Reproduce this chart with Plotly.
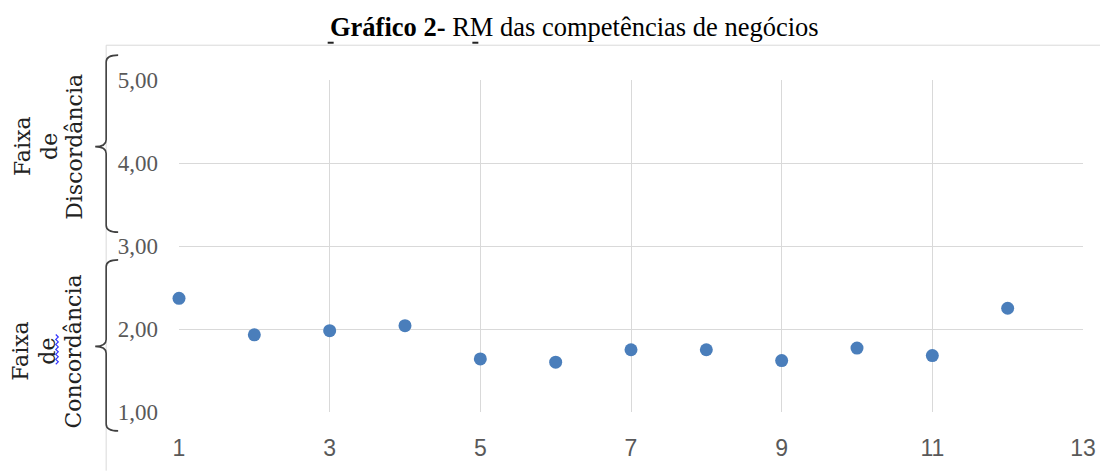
import plotly.graph_objects as go

# ---- data ----
competencias = [1, 2, 3, 4, 5, 6, 7, 8, 9, 10, 11, 12]
rm_values = [2.37, 1.93, 1.98, 2.04, 1.64, 1.60, 1.75, 1.75, 1.62, 1.77, 1.68, 2.25]
x_ticks = [1, 3, 5, 7, 9, 11, 13]
y_ticks = [1, 2, 3, 4, 5]
y_tick_labels = ["1,00", "2,00", "3,00", "4,00", "5,00"]

OFF = 8  # page body margin
SW, SH = 1108, 473
W, H = SW - OFF, SH - OFF
L, R, T, B = 179, 1085, 80, 414  # plot area in screen pixels


def X(px):
    return (px - L) / (R - L)


def Y(py):
    return (B - py) / (B - T)


def brace_path(y0, ym, y1, xv=106, xt=118, xs=95, r=7):
    return (f"M {X(xt)},{Y(y0)} Q {X(xv)},{Y(y0)} {X(xv)},{Y(y0 + r)} "
            f"L {X(xv)},{Y(ym - r)} Q {X(xv)},{Y(ym)} {X(xs)},{Y(ym)} "
            f"Q {X(xv)},{Y(ym)} {X(xv)},{Y(ym + r)} "
            f"L {X(xv)},{Y(y1 - r)} Q {X(xv)},{Y(y1)} {X(xt)},{Y(y1)}")


fig = go.Figure()
fig.add_trace(go.Scatter(
    x=competencias, y=rm_values, mode="markers",
    marker=dict(color="#4a7ebb", size=13, line=dict(width=0)),
    showlegend=False, cliponaxis=False,
))

grid = "#d9d9d9"
fig.update_xaxes(
    range=[1, 13], tickvals=x_ticks, showgrid=True, gridcolor=grid, gridwidth=1,
    zeroline=False, showline=False, ticks="", ticklabelstandoff=20,
    tickfont=dict(family="Liberation Sans Narrow, Liberation Sans", size=23, color="#595959"),
)
fig.update_yaxes(
    range=[1, 5], tickvals=y_ticks, ticktext=y_tick_labels, showgrid=True,
    gridcolor=grid, gridwidth=1, zeroline=False, showline=False, ticks="",
    ticklabelstandoff=20,
    tickfont=dict(family="Liberation Serif", size=23, color="#595959"),
)

shapes = [
    # chart frame
    dict(type="line", xref="paper", yref="paper", x0=X(106), x1=X(1108), y0=Y(45), y1=Y(45),
         line=dict(color=grid, width=1)),
    dict(type="line", xref="paper", yref="paper", x0=X(106), x1=X(106), y0=Y(45), y1=Y(473),
         line=dict(color=grid, width=1)),
    # braces
    dict(type="path", xref="paper", yref="paper", path=brace_path(55, 147, 233),
         line=dict(color="#404040", width=1.6)),
    dict(type="path", xref="paper", yref="paper", path=brace_path(261, 348, 433),
         line=dict(color="#404040", width=1.6)),
    # small marks under title
    dict(type="line", xref="paper", yref="paper", x0=X(328), x1=X(334), y0=Y(42.5), y1=Y(42.5),
         line=dict(color="#222222", width=2)),
    dict(type="line", xref="paper", yref="paper", x0=X(473), x1=X(479), y0=Y(42.5), y1=Y(42.5),
         line=dict(color="#222222", width=2)),
]
# spell-check squiggle under "de"
sq = f"M {X(55.5)},{Y(336)}"
yy = 336
k = 0
while yy < 365:
    yy += 2.5
    k += 1
    sq += f" L {X(58 if k % 2 else 55.5)},{Y(yy)}"
shapes.append(dict(type="path", xref="paper", yref="paper", path=sq,
                   line=dict(color="#3333ff", width=1.2)))

side_font = dict(family="DejaVu Serif", size=22, color="#222222")
annotations = [
    dict(text="<b>Gráfico 2-</b> RM das competências de negócios", xref="paper", yref="paper",
         x=X(575), y=Y(27), showarrow=False, xanchor="center", yanchor="middle",
         font=dict(family="Liberation Serif", size=26.5, color="#000000")),
]
for txt, xc, yc in [("Faixa", 22, 147), ("de", 49, 147), ("Discordância", 74, 147),
                    ("Faixa", 20, 353), ("de", 47, 353), ("Concordância", 73, 353)]:
    annotations.append(dict(text=txt, xref="paper", yref="paper", x=X(xc), y=Y(yc),
                            showarrow=False, textangle=-90, xanchor="center",
                            yanchor="middle", font=side_font))

fig.update_layout(
    width=W, height=H,
    margin=dict(l=L - OFF, r=SW - R, t=T - OFF, b=SH - B, pad=0),
    paper_bgcolor="white", plot_bgcolor="white",
    shapes=shapes, annotations=annotations,
)

fig.write_html("out.html")
